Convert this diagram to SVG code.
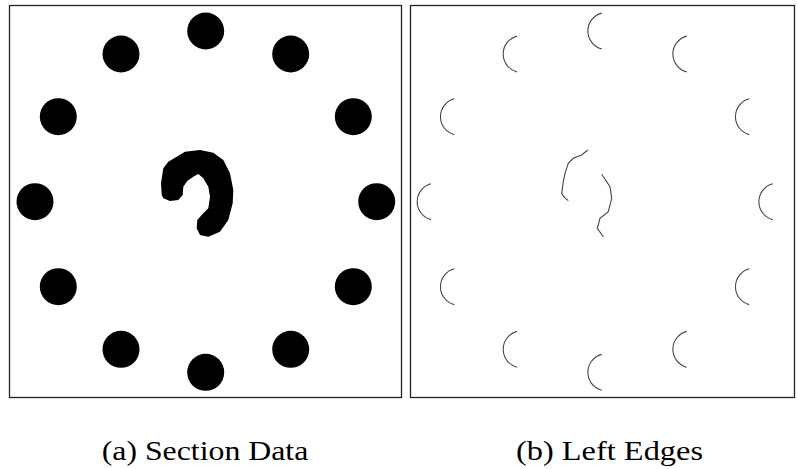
<svg xmlns="http://www.w3.org/2000/svg" width="797" height="469" viewBox="0 0 797 469">
<style>
.frame{fill:#fff;stroke:#222;stroke-width:1.3}
.dot{fill:#000}
.edge{fill:none;stroke:#444;stroke-width:1.1}
.cap{font-family:"Liberation Serif","Times New Roman",serif;font-size:28px;fill:#000}
</style>
<rect width="797" height="469" fill="#fff"/>
<g id="panel-a">
<rect class="frame" x="9.5" y="5.5" width="392" height="392"/>
<g id="a-dots">
<circle class="dot" cx="205.7" cy="31" r="18.5"/>
<circle class="dot" cx="121" cy="54" r="18.5"/>
<circle class="dot" cx="290.7" cy="54" r="18.5"/>
<circle class="dot" cx="58.3" cy="116.7" r="18.5"/>
<circle class="dot" cx="353.3" cy="116.7" r="18.5"/>
<circle class="dot" cx="35" cy="201.7" r="18.5"/>
<circle class="dot" cx="376.7" cy="201.7" r="18.5"/>
<circle class="dot" cx="58.3" cy="286.7" r="18.5"/>
<circle class="dot" cx="353.3" cy="286.7" r="18.5"/>
<circle class="dot" cx="121" cy="349.3" r="18.5"/>
<circle class="dot" cx="290.7" cy="349.3" r="18.5"/>
<circle class="dot" cx="205.7" cy="372.3" r="18.5"/>
</g>
<path id="a-hook" class="dot" d="M161.7,195 L161,183.3 L163.3,168.3 L168.3,161.7 L176.7,156.7 L185,151.7 L200,150 L213.3,152.7 L223.3,160 L230,173.3 L233.3,190 L232.7,203.3 L228.3,220 L220,231.7 L208.3,236.7 L200,235 L196.7,228.3 L197.3,220 L203.3,213.3 L208.3,208.3 L210,196.7 L208.3,186.7 L203.3,178.3 L198.3,174 L193.3,176.7 L187.3,181 L183.3,186.7 L182.7,195 L178.3,200 L170,201 L163.3,198.3 Z"/>
</g>
<g id="panel-b">
<rect class="frame" x="410.5" y="5.5" width="384" height="392"/>
<g id="b-edges">
<path class="edge" d="M601.7,13.1 A18.5,18.5 0 0 0 601.7,48.9"/>
<path class="edge" d="M517,36.1 A18.5,18.5 0 0 0 517,71.9"/>
<path class="edge" d="M686.7,36.1 A18.5,18.5 0 0 0 686.7,71.9"/>
<path class="edge" d="M454.3,98.8 A18.5,18.5 0 0 0 454.3,134.6"/>
<path class="edge" d="M749.3,98.8 A18.5,18.5 0 0 0 749.3,134.6"/>
<path class="edge" d="M431,183.8 A18.5,18.5 0 0 0 431,219.6"/>
<path class="edge" d="M772.7,183.8 A18.5,18.5 0 0 0 772.7,219.6"/>
<path class="edge" d="M454.3,268.8 A18.5,18.5 0 0 0 454.3,304.6"/>
<path class="edge" d="M749.3,268.8 A18.5,18.5 0 0 0 749.3,304.6"/>
<path class="edge" d="M517,331.4 A18.5,18.5 0 0 0 517,367.2"/>
<path class="edge" d="M686.7,331.4 A18.5,18.5 0 0 0 686.7,367.2"/>
<path class="edge" d="M601.7,354.4 A18.5,18.5 0 0 0 601.7,390.2"/>
<path class="edge" d="M587.7,150 L581.7,155 L573.3,158.3 L568.3,163.3 L565,173.3 L563.3,181.7 L561.7,193.3 L564.3,197.3 L568.3,200.7"/>
<path class="edge" d="M601.7,174.3 L610,186.7 L611.7,198.3 L608.3,211.7 L600,218.3 L597.3,228.3 L603.3,236.7"/>
</g>
</g>
<text id="cap-a" class="cap" x="101.7" y="460" textLength="206.6" lengthAdjust="spacingAndGlyphs">(a) Section Data</text>
<text id="cap-b" class="cap" x="516" y="460" textLength="187" lengthAdjust="spacingAndGlyphs">(b) Left Edges</text>
</svg>
